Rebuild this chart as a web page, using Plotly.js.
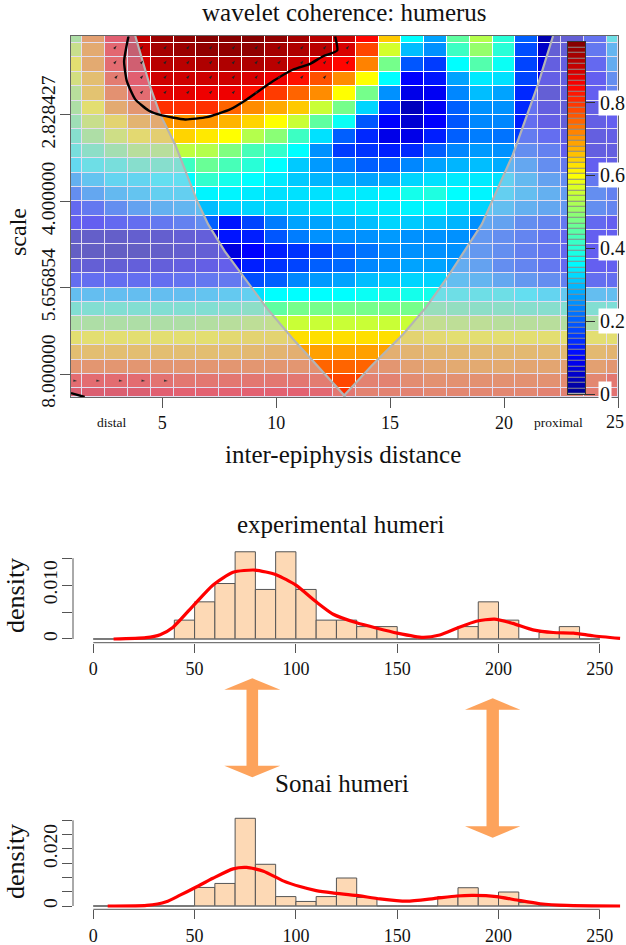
<!DOCTYPE html>
<html><head><meta charset="utf-8">
<script src="https://cdn.plot.ly/plotly-3.0.1.min.js"></script>
<style>html,body{margin:0;padding:0;background:#fff}#c{width:626px;height:945px}</style>
</head><body><div id="c"></div>
<script>
var W=626,H=945;
var serif='"Liberation Serif", serif';
// wavelet coherence grid, rows top to bottom, 25 columns
var coh=[
[.50,.72,.85,.90,.94,.95,.96,.96,.96,.95,.93,.91,.89,.84,.65,.36,.27,.45,.53,.40,.20,.03,.05,.14,.38],
[.55,.70,.83,.90,.93,.94,.95,.95,.95,.93,.92,.91,.88,.78,.56,.30,.25,.42,.50,.40,.18,.05,.05,.15,.28],
[.60,.70,.82,.88,.91,.91,.92,.92,.92,.91,.89,.86,.84,.72,.47,.19,.16,.36,.44,.37,.17,.07,.07,.12,.26],
[.57,.66,.79,.85,.89,.89,.89,.89,.88,.86,.83,.77,.71,.60,.36,.10,.12,.27,.34,.33,.17,.08,.07,.10,.20],
[.52,.65,.75,.82,.87,.87,.86,.86,.83,.79,.75,.71,.60,.47,.25,.08,.09,.24,.30,.27,.14,.05,.06,.10,.18],
[.50,.60,.70,.74,.80,.80,.80,.75,.71,.68,.65,.55,.47,.32,.14,.04,.09,.20,.25,.25,.14,.07,.05,.08,.12],
[.47,.55,.62,.68,.70,.70,.70,.67,.64,.60,.55,.45,.37,.19,.10,.06,.10,.19,.24,.24,.13,.08,.06,.08,.10],
[.43,.50,.56,.61,.63,.64,.62,.60,.53,.49,.42,.33,.20,.14,.08,.08,.13,.20,.23,.22,.16,.13,.08,.07,.08],
[.40,.44,.48,.52,.52,.54,.53,.48,.43,.41,.36,.25,.16,.15,.13,.14,.20,.24,.26,.25,.20,.17,.10,.07,.07],
[.35,.38,.40,.43,.43,.42,.46,.43,.40,.36,.31,.26,.23,.20,.20,.24,.27,.29,.30,.28,.25,.20,.15,.10,.08],
[.27,.31,.34,.34,.36,.36,.41,.38,.36,.34,.31,.29,.28,.27,.28,.32,.33,.34,.34,.33,.29,.24,.20,.15,.12],
[.20,.25,.29,.31,.33,.33,.35,.35,.34,.33,.33,.33,.34,.34,.35,.38,.39,.36,.35,.33,.30,.27,.23,.20,.17],
[.12,.15,.20,.24,.27,.28,.30,.32,.32,.32,.32,.33,.33,.34,.34,.35,.35,.33,.32,.30,.27,.25,.22,.20,.18],
[.10,.10,.12,.13,.15,.17,.20,.12,.17,.23,.27,.27,.28,.30,.32,.31,.30,.29,.25,.24,.20,.18,.15,.12,.10],
[.03,.03,.03,.04,.04,.05,.06,.12,.13,.19,.23,.25,.25,.25,.26,.25,.25,.25,.22,.20,.18,.15,.12,.10,.10],
[.02,.02,.02,.02,.03,.04,.05,.07,.10,.13,.15,.17,.20,.22,.24,.25,.25,.25,.22,.20,.17,.15,.12,.10,.10],
[.05,.05,.05,.06,.06,.07,.08,.09,.13,.15,.17,.20,.21,.24,.25,.27,.27,.26,.24,.20,.18,.15,.12,.10,.10],
[.13,.13,.13,.13,.13,.14,.15,.15,.18,.20,.24,.26,.27,.30,.31,.32,.32,.30,.28,.25,.22,.20,.17,.13,.13],
[.30,.30,.30,.30,.30,.30,.31,.32,.33,.36,.36,.36,.36,.37,.38,.38,.38,.38,.38,.38,.36,.34,.32,.30,.30],
[.42,.42,.42,.42,.42,.42,.42,.43,.44,.45,.47,.47,.47,.47,.47,.47,.46,.45,.44,.44,.43,.43,.42,.42,.41],
[.50,.50,.50,.50,.50,.50,.51,.52,.53,.54,.55,.55,.55,.55,.55,.55,.54,.53,.53,.52,.52,.52,.51,.50,.50],
[.60,.60,.60,.60,.60,.60,.60,.61,.62,.62,.63,.63,.63,.63,.63,.62,.61,.60,.60,.60,.60,.60,.60,.60,.60],
[.66,.66,.66,.66,.66,.66,.66,.66,.67,.68,.69,.69,.69,.69,.69,.68,.67,.67,.67,.67,.67,.67,.67,.67,.68],
[.74,.74,.74,.74,.74,.74,.74,.74,.74,.74,.74,.75,.75,.75,.74,.72,.71,.70,.70,.70,.71,.71,.72,.72,.74],
[.82,.82,.82,.82,.81,.80,.80,.80,.80,.80,.80,.79,.78,.78,.78,.76,.75,.75,.75,.75,.75,.75,.76,.77,.80],
[.86,.86,.86,.86,.85,.84,.84,.84,.84,.84,.84,.83,.80,.78,.78,.78,.77,.77,.77,.77,.77,.78,.78,.79,.81]
];
var colEdges=[1,1.5,2.5,3.5,4.5,5.5,6.5,7.5,8.5,9.5,10.5,11.5,12.5,13.5,14.5,15.5,16.5,17.5,18.5,19.5,20.5,21.5,22.5,23.5,24.5,25];
var rowEdges=[1.043,1.0833,1.1667,1.25,1.3333,1.4167,1.5,1.5833,1.6667,1.75,1.8333,1.9167,2,2.0833,2.1667,2.25,2.3333,2.4167,2.5,2.5833,2.6667,2.75,2.8333,2.9167,3,3.0833,3.133];
var jetV=[0,.05,.10,.15,.20,.25,.30,.33,.36,.42,.48,.54,.60,.66,.72,.78,.845,.90,.967];
var jetC=['#00008f','#0000c8','#0000ff','#0032ff','#005fff','#0091ff','#00beff','#00e1ff','#00ffff','#3cffc3','#80ff80','#beff41','#ffff00','#ffbe00','#ff8200','#ff4600','#ff0000','#c30000','#800000'];
var zTop=.967;
var cscale=jetV.map(function(v,i){return [v/zTop,jetC[i]];});
var coiLeftX=[3.82,4.47,4.91,5.57,6.54,7.02,7.75,8.51,9.6,10.75,12.0,12.94,13];
var coiLeftY=[1.043,1.335,1.497,1.671,2.0,2.134,2.29,2.423,2.62,2.799,2.98,3.117,3.133];
var coiRightX=[13,13.03,14.2,15.57,16.6,17.54,19.02,20.39,21.49,22.15];
var coiRightY=[3.133,3.117,2.95,2.77,2.61,2.435,2.134,1.729,1.323,1.043];
var sigX=[3.52,3.33,3.45,3.82,4.4,4.91,6.01,6.96,7.98,8.71,9.87,10.75,11.49,12.06,12.68,12.59];
var sigY=[1.046,1.19,1.304,1.41,1.474,1.5,1.526,1.513,1.468,1.41,1.304,1.237,1.204,1.16,1.127,1.046];
var sig2X=[1,1.6];
var sig2Y=[3.11,3.133];
var arrowX=[3,4.17,5.2,6.2,7.2,8.2,9.2,10.2,11.2,12.2,13.2, 3,4.17,5.2,6.2,7.2,8.2,9.2,10.2,11.2,12.2,13.2, 3.05,4.17,5.2,6.2,7.2,8.2,9.2,10.2,11.2,12.2, 4.17,5.2,6.2,7.2,8.2,9.2];
var arrowY=[1.1,1.1,1.1,1.1,1.1,1.1,1.1,1.1,1.1,1.1,1.1, 1.185,1.185,1.185,1.185,1.185,1.185,1.185,1.185,1.185,1.185,1.185, 1.27,1.27,1.27,1.27,1.27,1.27,1.27,1.27,1.27,1.27, 1.358,1.358,1.358,1.358,1.358,1.358];
var lowArrowX=[1.27,2.28,3.27,4.26,5.25];
var lowArrowY=[3.04,3.04,3.04,3.04,3.04];
var cbValues=[];
for(var i=0;i<64;i++){cbValues.push([(i+.5)/64*zTop]);}
var cbEdges=[];
for(var j=0;j<=64;j++){cbEdges.push(j/64*zTop);}
var scaleTicks=[1.5,2,2.5,3];
var scaleLabels=['2.828427','4.000000','5.656854','8.000000'];
var distTicks=[5,10,15,20,25];
var distLabels=['5','10','15','20',''];
var cbTicks=[0,.2,.4,.6,.8];
var cbLabels=['0','0.2','0.4','0.6','0.8'];
var binX=[5,15,25,35,45,55,65,75,85,95,105,115,125,135,145,155,165,175,185,195,205,215,225,235,245];
var expDensity=[0,0,0,0,.0035,.0069,.0103,.0162,.0092,.0162,.0092,.0035,.0035,.0023,.0023,0,0,0,.0023,.0069,.0035,0,.0012,.0023,0];
var sonDensity=[0,0,0,0,0,.0065,.0079,.0307,.0146,.0033,.0016,.0033,.0098,.0030,0,0,0,.0033,.0064,.0035,.0049,.0012,.0002,0,0];
var expKdeX=[10,26,33,39.4,49.6,59,69,79.8,90.5,100,110,118.4,130,140,150,162.8,171,179.4,189,198,207,217,227,237,246.6,260];
var expKdeY=[0,.00025,.0008,.0022,.0063,.0100,.0124,.0128,.0119,.0100,.0069,.0046,.0030,.0020,.0011,.0003,.00075,.0020,.0033,.0037,.0029,.0017,.0012,.0011,.0006,.0001];
var sonKdeX=[7.1,26.3,36,42.8,49.6,59,69,75.7,84,93.7,102,110,118,130,141.5,154.7,168,179.4,187.5,199,209,220.5,233.6,260];
var sonKdeY=[0,.0002,.0015,.0038,.0062,.0097,.0130,.0135,.0122,.0088,.0068,.0054,.0046,.0037,.0025,.0017,.0026,.0035,.0037,.0033,.0021,.0008,.0002,0];
var histTicks=[0,50,100,150,200,250];
var expYTicks=[0,.005,.010,.015];
var expYLabels=['0','','0.010',''];
var sonYTicks=[0,.005,.010,.015,.020,.025,.030];
var sonYLabels=['0','','','','0.020','',''];

function fx(p){return p/W;}
function fy(p){return 1-p/H;}
var axisGray='#555555';
var tickFont={family:serif,size:18,color:'#111'};
var yTickFont={family:serif,size:19.5,color:'#111'};

var peach='#FDD9B5';
var red='#FF0000';
function hist(xa,ya,d,kx,ky){
  return [
   {type:'bar',x:binX,y:d,width:10,xaxis:xa,yaxis:ya,marker:{color:peach,line:{color:'#555',width:1}},hoverinfo:'skip'},
   {type:'scatter',mode:'lines',x:[0,250],y:[0,0],xaxis:xa,yaxis:ya,line:{color:'#777',width:1},hoverinfo:'skip'},
   {type:'scatter',mode:'lines',x:kx,y:ky,xaxis:xa,yaxis:ya,line:{color:red,width:3.2,shape:'spline',smoothing:.6},hoverinfo:'skip'}
  ];
}
var overlay='rgba(200,190,225,0.5)';
var traces=[
 {type:'heatmap',z:coh,x:colEdges,y:rowEdges,zmin:0,zmax:zTop,zauto:false,colorscale:cscale,showscale:false,xgap:1,ygap:1,hoverinfo:'skip'},
 {type:'scatter',mode:'lines',x:[1].concat(coiLeftX,[1]),y:[1.043].concat(coiLeftY,[3.133]),fill:'toself',fillcolor:overlay,line:{width:0},hoverinfo:'skip'},
 {type:'scatter',mode:'lines',x:[25].concat(coiRightX,[25]),y:[3.133].concat(coiRightY,[1.043]),fill:'toself',fillcolor:overlay,line:{width:0},hoverinfo:'skip'},
 {type:'scatter',mode:'lines',x:coiLeftX,y:coiLeftY,line:{color:'#b4b4b4',width:2.2},hoverinfo:'skip'},
 {type:'scatter',mode:'lines',x:coiRightX,y:coiRightY,line:{color:'#b4b4b4',width:2.2},hoverinfo:'skip'},
 {type:'scatter',mode:'lines',x:sigX,y:sigY,line:{color:'#000',width:2.4,shape:'spline',smoothing:.5},hoverinfo:'skip'},
 {type:'scatter',mode:'lines',x:sig2X,y:sig2Y,line:{color:'#000',width:2.4},hoverinfo:'skip'},
 {type:'scatter',mode:'markers',x:arrowX,y:arrowY,marker:{symbol:'arrow',size:4,angle:40,color:'#222',line:{width:0}},hoverinfo:'skip'},
 {type:'scatter',mode:'markers',x:lowArrowX,y:lowArrowY,marker:{symbol:'arrow',size:4,angle:95,color:'#333',line:{width:0}},hoverinfo:'skip'},
 {type:'heatmap',z:[[1]],x:[0,1],y:[0,zTop],xaxis:'x2',yaxis:'y2',zmin:0,zmax:1,zauto:false,colorscale:[[0,'#8a8a8a'],[1,'#8a8a8a']],showscale:false,hoverinfo:'skip'},
 {type:'heatmap',z:cbValues,x:[0,1],y:cbEdges,xaxis:'x2',yaxis:'y2',zmin:0,zmax:zTop,zauto:false,colorscale:cscale,showscale:false,ygap:1,hoverinfo:'skip'}
].concat(hist('x3','y3',expDensity,expKdeX,expKdeY),hist('x4','y4',sonDensity,sonKdeX,sonKdeY));

function ann(text,x,y,size,angle,extra){
  var a={text:text,xref:'paper',yref:'paper',x:fx(x),y:fy(y),xanchor:'center',yanchor:'middle',showarrow:false,
    font:{family:serif,size:size,color:'#111'},textangle:angle||0};
  return Object.assign(a,extra||{});
}
var annotations=[
 ann('wavelet coherence: humerus',344,13,25),
 ann('inter-epiphysis distance',343,454,25),
 ann('scale',18,232,24,-90),
 ann('distal',111,423,13.5),
 ann('proximal',558,423,13.5),
 ann('25',615,422,18),
 ann('experimental humeri',341,524,25),
 ann('Sonai humeri',342,783,25),
 ann('density',15,596,26,-90),
 ann('density',15,862,26,-90)
];
cbTicks.forEach(function(t,i){
  annotations.push({text:cbLabels[i],xref:'paper',yref:'y2',x:fx(598),y:t,xanchor:'left',yanchor:'middle',showarrow:false,
    font:{family:serif,size:20,color:'#111'},bgcolor:'#fff',borderpad:1});
});
function arrowPath(cx,top,bot,headW,headH,shaftW){
  var pts=[[cx,top],[cx+headW,top+headH],[cx+shaftW,top+headH],[cx+shaftW,bot-headH],[cx+headW,bot-headH],[cx,bot],[cx-headW,bot-headH],[cx-shaftW,bot-headH],[cx-shaftW,top+headH],[cx-headW,top+headH]];
  return 'M'+pts.map(function(p){return fx(p[0])+','+fy(p[1]);}).join('L')+'Z';
}
var orange='#FDA35C';
var shapes=[
 {type:'path',xref:'paper',yref:'paper',path:arrowPath(252.3,678.3,777.3,28,11.5,5.8),fillcolor:orange,line:{width:0}},
 {type:'path',xref:'paper',yref:'paper',path:arrowPath(492.7,698.3,837.7,27.7,11.5,6.2),fillcolor:orange,line:{width:0}},
 {type:'line',xref:'x3',yref:'paper',x0:0,x1:250,y0:fy(642.7),y1:fy(642.7),line:{color:axisGray,width:1}},
 {type:'line',xref:'paper',yref:'y3',x0:fx(73),x1:fx(73),y0:0,y1:.015,line:{color:axisGray,width:1}},
 {type:'line',xref:'x4',yref:'paper',x0:0,x1:250,y0:fy(909.3),y1:fy(909.3),line:{color:axisGray,width:1}},
 {type:'line',xref:'paper',yref:'y4',x0:fx(73),x1:fx(73),y0:0,y1:.03,line:{color:axisGray,width:1}}
];
function yHist(top,bot,rng,tv,tt,anchor){
  return {domain:[fy(bot),fy(top)],range:rng,anchor:anchor,tickmode:'array',tickvals:tv,ticktext:tt,ticks:'outside',ticklen:10,tickcolor:axisGray,tickwidth:1,
    tickangle:-90,tickfont:yTickFont,showline:false,showgrid:false,zeroline:false,ticklabelstandoff:-3};
}
function xHist(anchor){
  return {domain:[fx(73),fx(622)],range:[-10.02,260.95],anchor:anchor,tickmode:'array',tickvals:histTicks,ticks:'outside',ticklen:9,tickcolor:axisGray,tickwidth:1,
    tickfont:tickFont,showline:false,showgrid:false,zeroline:false,ticklabelstandoff:1};
}
var layout={
 width:W,height:H,margin:{l:0,r:0,t:0,b:0},paper_bgcolor:'#fff',plot_bgcolor:'#fff',showlegend:false,
 xaxis:{domain:[fx(71),fx(618)],range:[1,25],tickmode:'array',tickvals:distTicks,ticktext:distLabels,ticks:'outside',ticklen:10,tickcolor:axisGray,
   showline:true,mirror:true,linecolor:'#666',linewidth:1,showgrid:false,zeroline:false,tickfont:tickFont,ticklabelstandoff:-1},
 yaxis:{domain:[fy(397),fy(36)],range:[3.133,1.043],tickmode:'array',tickvals:scaleTicks,ticktext:scaleLabels,ticks:'outside',ticklen:10,tickcolor:axisGray,
   showline:true,mirror:true,linecolor:'#666',linewidth:1,showgrid:false,zeroline:false,tickangle:-90,tickfont:yTickFont,ticklabelstandoff:-3},
 xaxis2:{domain:[fx(568),fx(585)],range:[0,1],anchor:'y2',showticklabels:false,ticks:'',showline:true,mirror:true,linecolor:'#333',showgrid:false,zeroline:false},
 yaxis2:{domain:[fy(394),fy(41.7)],range:[0,zTop],anchor:'x2',side:'right',tickmode:'array',tickvals:cbTicks,showticklabels:false,ticks:'outside',ticklen:9,tickcolor:'#333',
   showline:true,mirror:true,linecolor:'#333',showgrid:false,zeroline:false},
 xaxis3:xHist('y3'),
 yaxis3:yHist(548,642.7,[-.00069,.0169],expYTicks,expYLabels,'x3'),
 xaxis4:xHist('y4'),
 yaxis4:yHist(812,909.3,[-.00115,.0329],sonYTicks,sonYLabels,'x4'),
 annotations:annotations,shapes:shapes
};
Plotly.newPlot('c',traces,layout,{staticPlot:true,displayModeBar:false});
</script></body></html>
